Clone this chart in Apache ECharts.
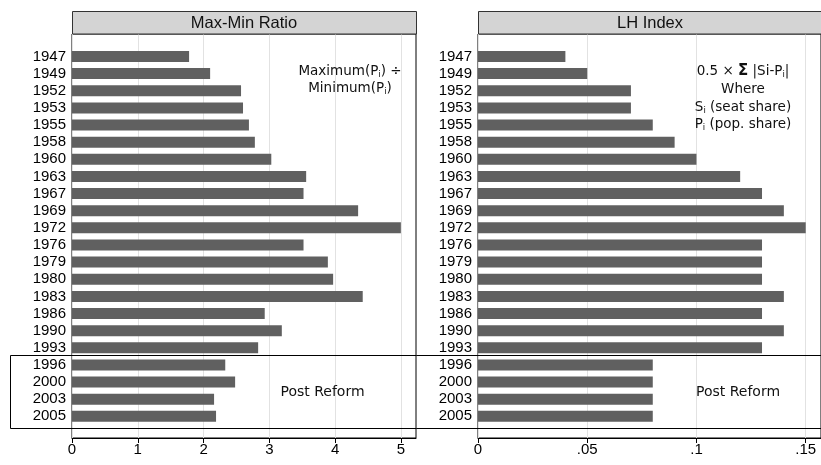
<!DOCTYPE html>
<html><head><meta charset="utf-8">
<script src="https://cdn.jsdelivr.net/npm/echarts@6/dist/echarts.min.js"></script>
<style>html,body{margin:0;padding:0;background:#fff}#c{width:821px;height:465px}</style>
</head><body><div id="c"></div>
<script>
// ---- data ----
const years = ['1947','1949','1952','1953','1955','1958','1960','1963','1967','1969','1972','1976','1979','1980','1983','1986','1990','1993','1996','2000','2003','2005'];
const maxMinRatio = [1.78,2.10,2.57,2.60,2.69,2.78,3.03,3.56,3.52,4.35,5.00,3.52,3.89,3.97,4.42,2.93,3.19,2.83,2.33,2.48,2.16,2.19];
const lhIndex = [0.04,0.05,0.07,0.07,0.08,0.09,0.10,0.12,0.13,0.14,0.15,0.13,0.13,0.13,0.14,0.13,0.14,0.13,0.08,0.08,0.08,0.08];
const maxMinTicks = [0,1,2,3,4,5];
const maxMinTickLabels = ['0','1','2','3','4','5'];
const lhTicks = [0,0.05,0.1,0.15];
const lhTickLabels = ['0','.05','.1','.15'];
const panelTitles = ['Max-Min Ratio','LH Index'];

// ---- layout ----
const W = 344, plotTop = 34, plotH = 404, barTop = 47.9, barH = 377;
const lefts = [72, 478];
const band = barH / years.length;
const FONT = 'Liberation Sans, Arial, sans-serif';
const AFONT = 'DejaVu Sans, Verdana, sans-serif';
const barColor = '#606060';

function lab(ticks, labels) {
  return v => { const i = ticks.findIndex(t => Math.abs(t - v) < 1e-9); return i < 0 ? '' : labels[i]; };
}

const panels = [
  {ticks: maxMinTicks, labels: maxMinTickLabels, max: 5.23, interval: 1, data: maxMinRatio},
  {ticks: lhTicks, labels: lhTickLabels, max: 0.157, interval: 0.05, data: lhIndex}
];

const grid = [], xAxis = [], yAxis = [], series = [];
panels.forEach((p, k) => {
  const L = lefts[k];
  grid.push({left: L, top: plotTop, width: W, height: plotH, show: true, borderColor: '#000', borderWidth: 1, backgroundColor: 'transparent'});
  grid.push({left: L, top: barTop, width: W, height: barH});
  xAxis.push({
    gridIndex: 2*k, type: 'value', min: 0, max: p.max, interval: p.interval,
    axisLine: {show: true, lineStyle: {color: '#000', width: 1}},
    axisTick: {show: true, inside: false, length: 5, customValues: p.ticks, lineStyle: {color: '#000'}},
    axisLabel: {customValues: p.ticks, formatter: lab(p.ticks, p.labels), fontSize: 15, color: '#000', margin: 4, fontFamily: FONT},
    splitLine: {show: true, lineStyle: {color: '#e2e2e2', width: 1}}
  });
  xAxis.push({gridIndex: 2*k+1, type: 'value', min: 0, max: p.max, show: false});
  yAxis.push({gridIndex: 2*k, type: 'value', min: 0, max: 1, show: false});
  yAxis.push({
    gridIndex: 2*k+1, type: 'category', data: years, inverse: true,
    axisLine: {show: false}, axisTick: {show: false}, splitLine: {show: false},
    axisLabel: {interval: 0, fontSize: 15, color: '#000', margin: 6, fontFamily: FONT}
  });
  series.push({type: 'bar', xAxisIndex: 2*k+1, yAxisIndex: 2*k+1, data: p.data, barWidth: 11, itemStyle: {color: barColor}});
});

const graphic = [];
panelTitles.forEach((t, k) => {
  graphic.push({type: 'rect', shape: {x: lefts[k] + 0.5, y: 11.5, width: W, height: 22.5}, style: {fill: '#d4d4d4', stroke: '#333', lineWidth: 1}, z: 5});
  graphic.push({type: 'text', x: lefts[k] + W/2, y: 23, style: {text: t, font: '16.5px ' + FONT, fill: '#111', textAlign: 'center', textVerticalAlign: 'middle'}, z: 6});
});
const rich = {
  a: {fontSize: 13.5, fontFamily: AFONT, fill: '#111', lineHeight: 17},
  b: {fontSize: 15, fontFamily: AFONT, fill: '#111', fontWeight: 'bold', lineHeight: 17},
  s: {fontSize: 8.5, fontFamily: AFONT, fill: '#111', lineHeight: 9, verticalAlign: 'bottom'}
};
const annot = [
  [350, 71, '{a|Maximum(P}{s|i}{a|) ÷}'],
  [350, 88, '{a|Minimum(P}{s|i}{a|)}'],
  [743, 71, '{a|0.5 × }{b|Σ}{a| |Si-P}{s|i}{a||}'],
  [743, 89, '{a|Where}'],
  [743, 107, '{a|S}{s|i}{a| (seat share)}'],
  [743, 124, '{a|P}{s|i}{a| (pop. share)}']
];
annot.forEach(([x, y, t]) => graphic.push({type: 'text', x, y, style: {text: t, rich, textAlign: 'center', textVerticalAlign: 'middle'}, z: 6}));
[[322.5, 392], [738, 392]].forEach(([x, y]) => graphic.push({type: 'text', x, y, style: {text: 'Post Reform', font: '14px ' + AFONT, fill: '#111', textAlign: 'center', textVerticalAlign: 'middle'}, z: 6}));
// post-reform box: from the boundary between 1993 and 1996 down below the last bar
const boxTop = Math.round(barTop + 18 * band) - 0.5;
const boxBottom = Math.round(barTop + 22.2 * band) + 0.5;
graphic.push({type: 'rect', shape: {x: 10.5, y: boxTop, width: 900, height: boxBottom - boxTop}, style: {fill: 'none', stroke: '#000', lineWidth: 1}, z: 10});

const chart = echarts.init(document.getElementById('c'), null, {renderer: 'canvas'});
chart.setOption({animation: false, backgroundColor: '#fff', grid, xAxis, yAxis, series, graphic});
</script></body></html>
